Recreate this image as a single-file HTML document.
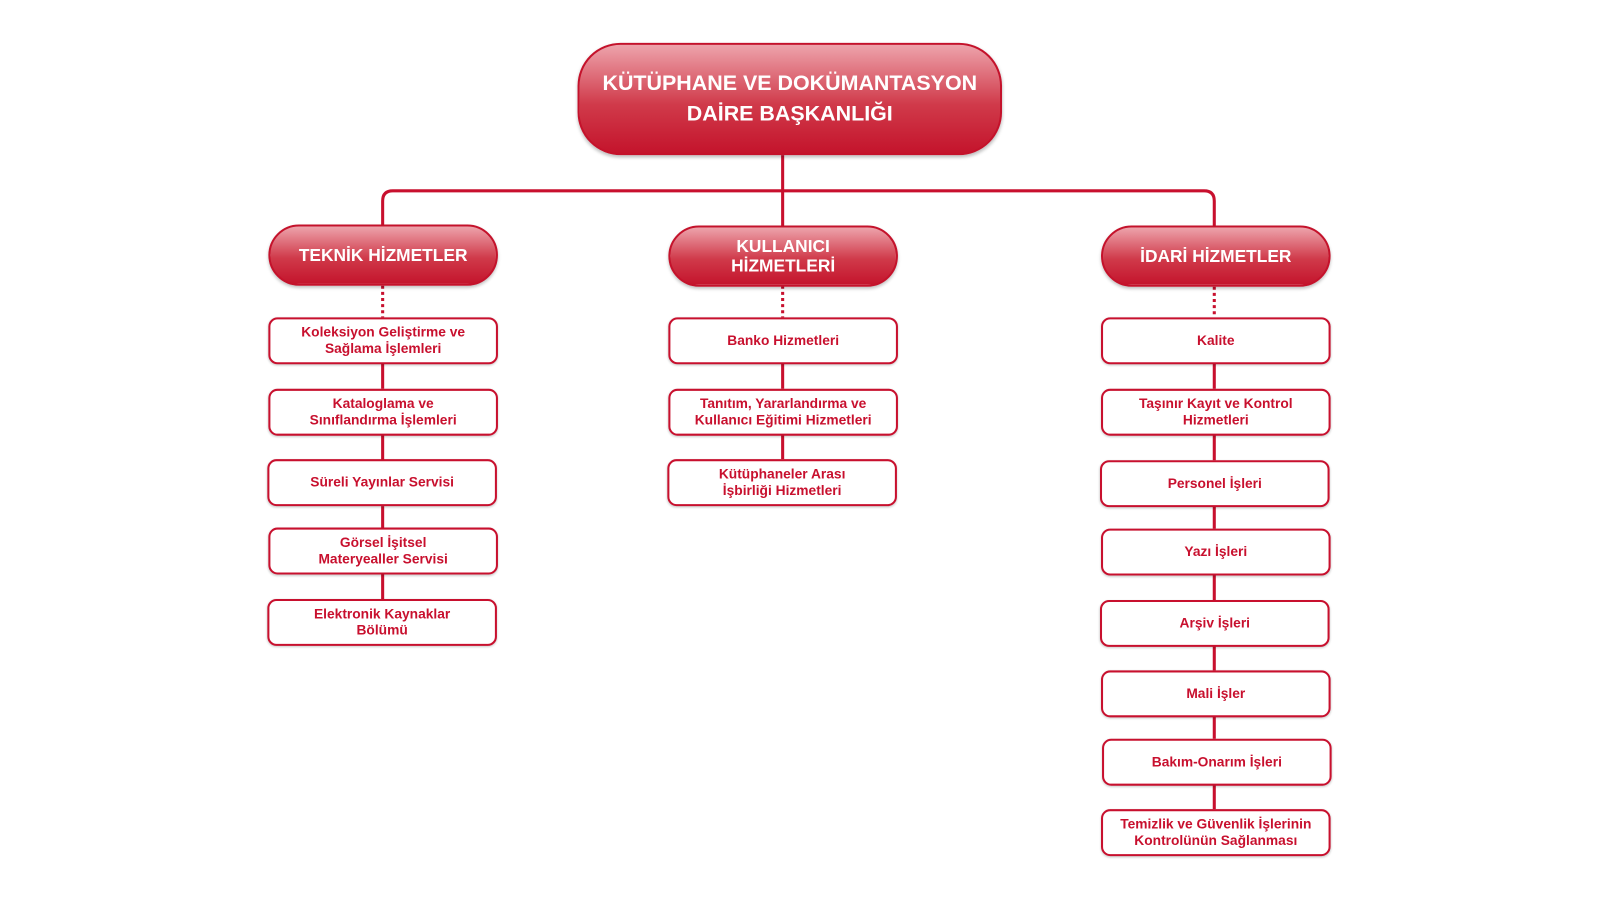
<!DOCTYPE html>
<html><head><meta charset="utf-8"><style>
body{margin:0;width:1600px;height:900px;background:#fff;position:relative;overflow:hidden;font-family:"Liberation Sans",sans-serif}
#w{position:absolute;left:0;top:0;width:1568px;height:882px;transform:scale(1.0204);transform-origin:0 0}
.top,.l2{position:absolute;background:linear-gradient(#eda3ab,#d03a4a 55%,#c4142c);border:2px solid #c4122b;box-sizing:border-box;color:#fff;font-weight:bold;display:flex;align-items:center;justify-content:center;text-align:center;box-shadow:0 2px 3px rgba(0,0,0,.25)}
.top{left:566px;top:42px;width:416px;height:110px;border-radius:42px;font-size:21px;line-height:30px}
.l2{width:225px;height:60px;border-radius:30px;font-size:17px;line-height:19px}
.b{position:absolute;width:225px;height:46px;border:2px solid #c8102e;border-radius:9px;box-sizing:border-box;background:#fff;color:#c8102e;font-weight:bold;font-size:13.5px;line-height:16px;display:flex;align-items:center;justify-content:center;text-align:center;box-shadow:0 1px 2px rgba(0,0,0,.2)}
svg{position:absolute;left:0;top:0}
</style></head><body><div id="w">
<svg width="1568" height="882"><g stroke="#c8102e" stroke-width="3" fill="none">
<path d="M767 152V221M375 220V197Q375 187 385 187H1180Q1190 187 1190 197V221"/>
<path d="M375 280V311M767 280V311M1190 281V311" stroke-dasharray="3 3"/>
<path d="M375 356V381M375 426V451M375 496V517M375 562V587"/>
<path d="M767 356V381M767 426V450"/>
<path d="M1190 356V381M1190 426V451M1190 496V518M1190 563V588M1190 633V657M1190 702V724M1190 769V793"/>
</g></svg>
<div class="top">KÜTÜPHANE VE DOKÜMANTASYON<br>DAİRE BAŞKANLIĞI</div>
<div class="l2" style="left:263px;top:220px">TEKNİK HİZMETLER</div>
<div class="l2" style="left:655px;top:221px">KULLANICI<br>HİZMETLERİ</div>
<div class="l2" style="left:1079px;top:221px">İDARİ HİZMETLER</div>
<div class="b" style="left:263px;top:311px">Koleksiyon Geliştirme ve<br>Sağlama İşlemleri</div>
<div class="b" style="left:263px;top:381px">Kataloglama ve<br>Sınıflandırma İşlemleri</div>
<div class="b" style="left:262px;top:450px">Süreli Yayınlar Servisi</div>
<div class="b" style="left:263px;top:517px">Görsel İşitsel<br>Materyealler Servisi</div>
<div class="b" style="left:262px;top:587px">Elektronik Kaynaklar<br>Bölümü</div>
<div class="b" style="left:655px;top:311px">Banko Hizmetleri</div>
<div class="b" style="left:655px;top:381px">Tanıtım, Yararlandırma ve<br>Kullanıcı Eğitimi Hizmetleri</div>
<div class="b" style="left:654px;top:450px">Kütüphaneler Arası<br>İşbirliği Hizmetleri</div>
<div class="b" style="left:1079px;top:311px">Kalite</div>
<div class="b" style="left:1079px;top:381px">Taşınır Kayıt ve Kontrol<br>Hizmetleri</div>
<div class="b" style="left:1078px;top:451px">Personel İşleri</div>
<div class="b" style="left:1079px;top:518px">Yazı İşleri</div>
<div class="b" style="left:1078px;top:588px">Arşiv İşleri</div>
<div class="b" style="left:1079px;top:657px">Mali İşler</div>
<div class="b" style="left:1080px;top:724px">Bakım-Onarım İşleri</div>
<div class="b" style="left:1079px;top:793px">Temizlik ve Güvenlik İşlerinin<br>Kontrolünün Sağlanması</div>
</div></body></html>
